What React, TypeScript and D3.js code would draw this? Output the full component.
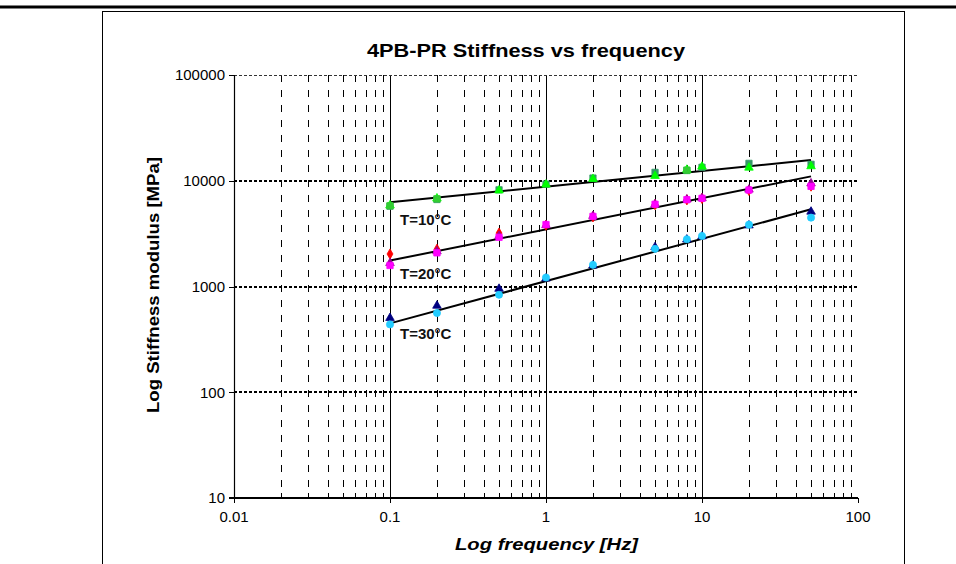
import React from 'react';
import * as d3 from 'd3';

// ---- data ----
const frequencies = [0.1, 0.2, 0.5, 1, 2, 5, 8, 10, 20, 50];

// T = 10 °C
const t10SeaGreenSquares = [5750, 6650, 8200, 9300, 10600, 12000, 12500, 13400, 14600, 14300];
const t10LimeTriangles = [5850, 6800, 8100, 9200, 10400, 11100, 12700, 13600, 13300, 13700];
const t10GreenSquares = [5800, 6750, null, null, null, null, 12600, null, null, null];

// T = 20 °C
const t20RedDiamonds = [2030, 2250, 3200, 3800, 4550, 5950, 6600, 6800, 8100, 8900];
const t20PurpleTriangles = [1665, 2150, 3000, 3800, 4650, 6000, 6650, 6850, 8250, 9440];
const t20MagentaSquares = [1580, 2080, 2920, 3850, 4600, 5990, 6620, 6820, 8170, 8850];

// T = 30 °C
const t30NavyTriangles = [504, 658, 951, 1190, 1580, 2355, 2780, 2980, 3780, 5100];
const t30CyanCircles = [438, 561, 835, 1216, 1603, 2270, 2800, 3005, 3845, 4480];

// power-law trend lines (value at start and end of the fitted range)
const trendFrequencies = [0.1, 50];
const trendStartValues = [6260, 1760, 448];
const trendEndValues = [15680, 11000, 5370];

const groupNames = ['T=10°C', 'T=20°C', 'T=30°C'];
const groupLabelValues = [3815, 1178, 319];
const xTickLabels = ['0.01', '0.1', '1', '10', '100'];
const yTickLabels = ['10', '100', '1000', '10000', '100000'];

const titleText = '4PB-PR Stiffness vs frequency';
const xTitle = 'Log frequency [Hz]';
const yTitle = 'Log Stiffness modulus [MPa]';

type Series = { values: (number | null)[]; shape: d3.SymbolType; size: number; color: string };

const series: Series[] = [
  { values: t10SeaGreenSquares, shape: d3.symbolSquare, size: 40, color: '#339966' },
  { values: t10LimeTriangles, shape: d3.symbolTriangle, size: 32, color: '#00FF00' },
  { values: t10GreenSquares, shape: d3.symbolSquare, size: 40, color: '#33CC33' },
  { values: t20RedDiamonds, shape: d3.symbolDiamond, size: 30, color: '#FF0000' },
  { values: t20PurpleTriangles, shape: d3.symbolTriangle, size: 32, color: '#990099' },
  { values: t20MagentaSquares, shape: d3.symbolSquare, size: 40, color: '#FF00FF' },
  { values: t30NavyTriangles, shape: d3.symbolTriangle, size: 32, color: '#000080' },
  { values: t30CyanCircles, shape: d3.symbolCircle, size: 40, color: '#22CCFF' },
];

// ---- layout ----
const W = 956;
const H = 564;
const plot = { left: 234, right: 858, top: 75, bottom: 498 };
const FONT = '"Liberation Sans", Arial, sans-serif';

export default function App() {
  const x = d3.scaleLog().domain([0.01, 100]).range([plot.left, plot.right]);
  const y = d3.scaleLog().domain([10, 100000]).range([plot.bottom, plot.top]);
  const crisp = (v: number) => Math.round(v) + 0.5;

  const xMajor = xTickLabels.map(Number);
  const yMajor = yTickLabels.map(Number);
  const xMinor: number[] = [];
  xMajor.slice(0, -1).forEach((d) => {
    for (let k = 2; k <= 9; k++) xMinor.push(k * d);
  });

  const trendLine = d3
    .line<[number, number]>()
    .x((d) => x(d[0]))
    .y((d) => y(d[1]));

  return (
    <svg
      width={W}
      height={H}
      style={{ position: 'absolute', left: 0, top: 0, background: '#fff' }}
      fontFamily={FONT}
    >
      <rect x={0} y={0} width={W} height={H} fill="#fff" />
      {/* outer frame */}
      <line x1={0} x2={W} y1={7} y2={7} stroke="#000" strokeWidth={3} />
      <rect x={102.5} y={11.5} width={802} height={H} fill="none" stroke="#000" strokeWidth={1} />

      {/* minor vertical gridlines */}
      {xMinor.map((f, i) => (
        <line
          key={'mv' + i}
          x1={crisp(x(f))}
          x2={crisp(x(f))}
          y1={plot.top}
          y2={plot.bottom}
          stroke="#000"
          strokeWidth={1}
          strokeDasharray="7,8"
        />
      ))}
      {/* major vertical gridlines */}
      {xMajor.slice(1, -1).map((f, i) => (
        <line key={'Mv' + i} x1={crisp(x(f))} x2={crisp(x(f))} y1={plot.top} y2={plot.bottom} stroke="#000" strokeWidth={1} />
      ))}
      {/* horizontal gridlines */}
      {yMajor.slice(1, -1).map((v, i) => (
        <line
          key={'hg' + i}
          x1={plot.left}
          x2={plot.right}
          y1={Math.round(y(v))}
          y2={Math.round(y(v))}
          stroke="#000"
          strokeWidth={2}
          strokeDasharray="3,2"
        />
      ))}
      <line
        x1={plot.left}
        x2={plot.right}
        y1={crisp(y(100000))}
        y2={crisp(y(100000))}
        stroke="#333"
        strokeWidth={1}
        strokeDasharray="3,2"
      />

      {/* axes */}
      <line x1={crisp(plot.left)} x2={crisp(plot.left)} y1={plot.top} y2={plot.bottom} stroke="#000" strokeWidth={1.2} />
      <line x1={plot.left - 5} x2={plot.right} y1={plot.bottom} y2={plot.bottom} stroke="#000" strokeWidth={2} />
      {yMajor.map((v, i) => (
        <line key={'yt' + i} x1={plot.left - 5} x2={plot.left} y1={crisp(y(v))} y2={crisp(y(v))} stroke="#000" strokeWidth={1} />
      ))}
      {xMajor.map((f, i) => (
        <line key={'xt' + i} x1={crisp(x(f))} x2={crisp(x(f))} y1={plot.bottom} y2={plot.bottom + 5} stroke="#000" strokeWidth={1} />
      ))}
      {xMinor.map((f, i) => (
        <line key={'xmt' + i} x1={crisp(x(f))} x2={crisp(x(f))} y1={plot.bottom - 5} y2={plot.bottom} stroke="#000" strokeWidth={1} />
      ))}

      {/* tick labels */}
      {yTickLabels.map((t, i) => (
        <text key={'yl' + i} x={plot.left - 9} y={y(yMajor[i])} dy="0.35em" textAnchor="end" fontSize={15} fill="#000">
          {t}
        </text>
      ))}
      {xTickLabels.map((t, i) => (
        <text key={'xl' + i} x={x(xMajor[i])} y={plot.bottom + 24} textAnchor="middle" fontSize={15} fill="#000">
          {t}
        </text>
      ))}

      {/* trend lines */}
      {groupNames.map((g, gi) => (
        <path
          key={'tr' + gi}
          d={
            trendLine([
              [trendFrequencies[0], trendStartValues[gi]],
              [trendFrequencies[1], trendEndValues[gi]],
            ]) || ''
          }
          fill="none"
          stroke="#000"
          strokeWidth={2}
        />
      ))}

      {/* markers */}
      {series.map((s, si) => {
        const p = d3.symbol().type(s.shape).size(s.size)();
        return (
          <g key={'s' + si}>
            {s.values.map((v, i) =>
              v == null ? null : (
                <path
                  key={i}
                  d={p || ''}
                  transform={`translate(${x(frequencies[i])},${y(v)})`}
                  fill={s.color}
                  stroke={s.color}
                  strokeWidth={0.8}
                />
              )
            )}
          </g>
        );
      })}

      {/* group labels */}
      {groupNames.map((g, gi) => (
        <text key={'gl' + gi} x={400} y={y(groupLabelValues[gi])} fontSize={15} fontWeight="bold" fill="#111">
          {g}
        </text>
      ))}

      {/* titles */}
      <text x={367} y={57} fontSize={18} fontWeight="bold" fill="#000" textLength={318} lengthAdjust="spacingAndGlyphs">
        {titleText}
      </text>
      <text
        x={455}
        y={550}
        fontSize={17}
        fontWeight="bold"
        fontStyle="italic"
        fill="#000"
        textLength={183}
        lengthAdjust="spacingAndGlyphs"
      >
        {xTitle}
      </text>
      <text
        transform={`translate(159,413) rotate(-90)`}
        fontSize={16}
        fontWeight="bold"
        fill="#000"
        textLength={256}
        lengthAdjust="spacingAndGlyphs"
      >
        {yTitle}
      </text>
    </svg>
  );
}
